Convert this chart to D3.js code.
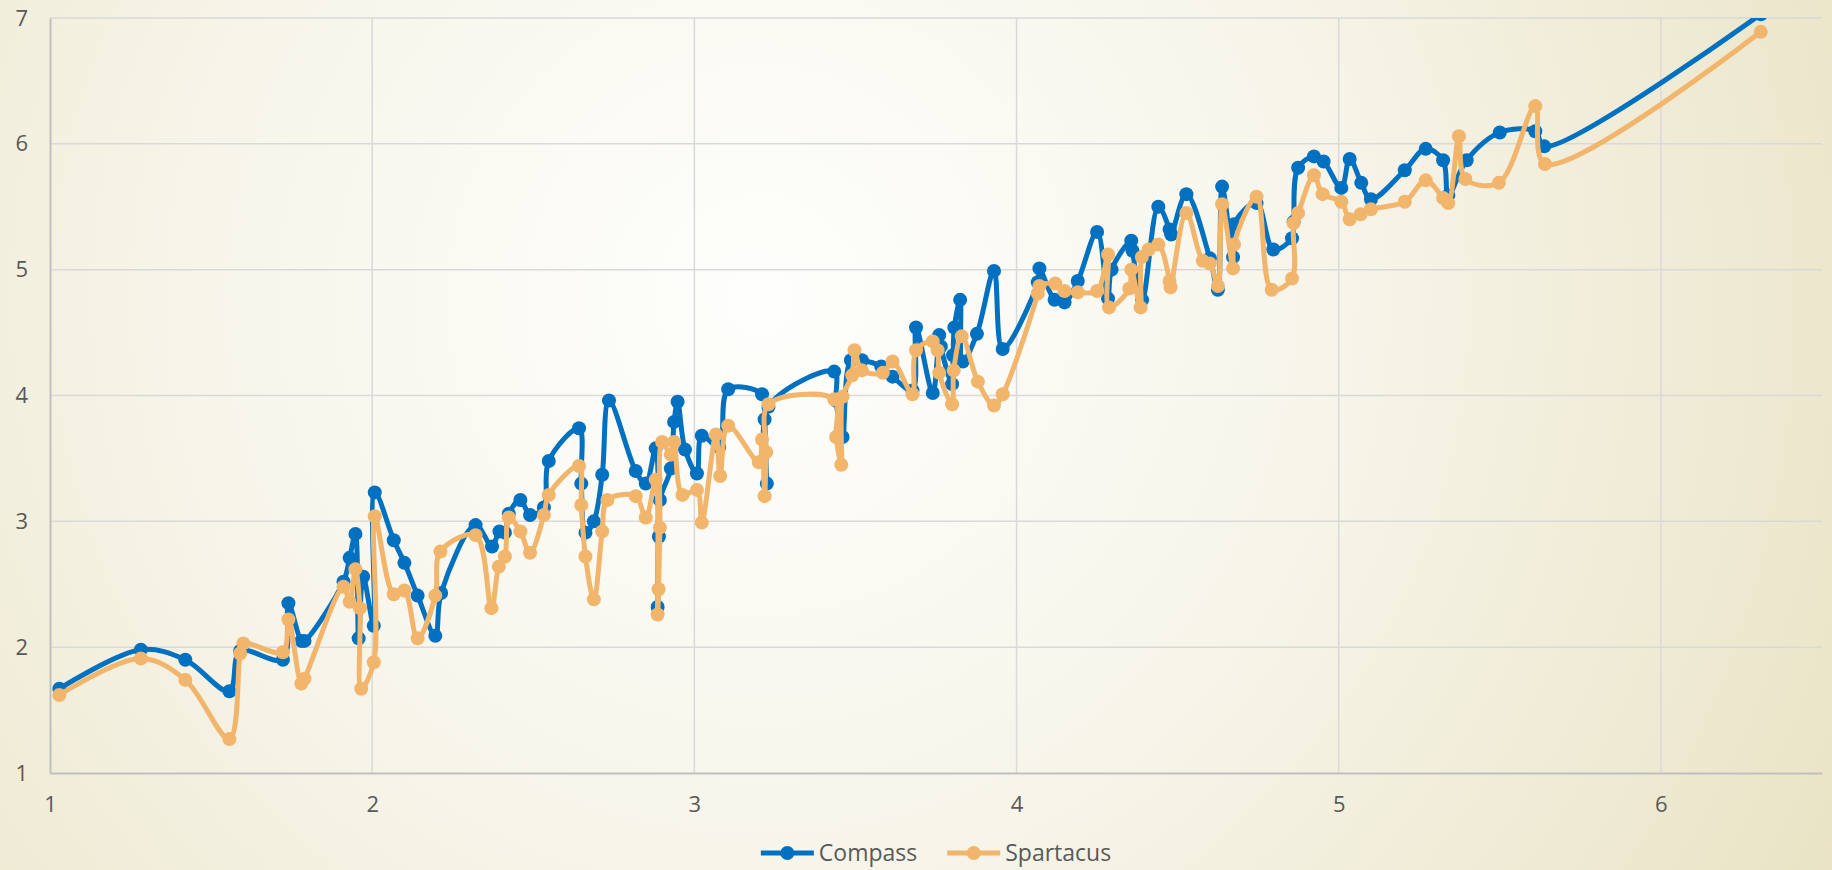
<!DOCTYPE html>
<html>
<head>
<meta charset="utf-8">
<script src="https://cdn.jsdelivr.net/npm/d3@7"></script>
<style>
  html, body { margin: 0; padding: 0; }
  body { width: 1832px; height: 870px; overflow: hidden; }
  svg text { font-family: "Open Sans", "DejaVu Sans", sans-serif; fill: #595959; }
</style>
</head>
<body>
<svg id="chart" width="1832" height="870"></svg>
<script>
// series values
var compassX = [1.029, 1.282, 1.42, 1.557, 1.59, 1.723, 1.74, 1.78, 1.79, 1.911, 1.93, 1.948, 1.958, 1.972, 2.005, 2.008,
  2.067, 2.10, 2.141, 2.196, 2.214, 2.321, 2.372, 2.395, 2.412, 2.424, 2.46, 2.49, 2.533, 2.548, 2.642, 2.649, 2.662,
  2.688, 2.714, 2.735, 2.818, 2.849, 2.88, 2.886, 2.89, 2.893, 2.927, 2.937, 2.948, 2.971, 3.008, 3.023, 3.077, 3.105,
  3.21, 3.218, 3.225, 3.23, 3.434, 3.44, 3.46, 3.486, 3.52, 3.58, 3.615, 3.677, 3.688, 3.74, 3.76, 3.765, 3.80, 3.803,
  3.807, 3.825, 3.833, 3.877, 3.93, 3.957, 4.066, 4.071, 4.118, 4.149, 4.19, 4.25, 4.284, 4.295, 4.356, 4.36, 4.39,
  4.44, 4.475, 4.48, 4.527, 4.60, 4.625, 4.638, 4.672, 4.675, 4.745, 4.797, 4.855, 4.86, 4.874, 4.923, 4.953, 5.008,
  5.034, 5.07, 5.10, 5.205, 5.27, 5.324, 5.34, 5.397, 5.50, 5.61, 5.638, 6.31];
var compassY = [1.67, 1.98, 1.90, 1.65, 1.97, 1.90, 2.35, 2.05, 2.05, 2.52, 2.71, 2.90, 2.07, 2.56, 2.17, 3.23,
  2.85, 2.67, 2.41, 2.09, 2.43, 2.97, 2.80, 2.92, 2.91, 3.06, 3.17, 3.05, 3.11, 3.48, 3.74, 3.30, 2.91,
  3.00, 3.37, 3.96, 3.40, 3.30, 3.58, 2.32, 2.88, 3.17, 3.42, 3.79, 3.95, 3.57, 3.38, 3.68, 3.59, 4.05,
  4.01, 3.81, 3.30, 3.91, 4.19, 3.96, 3.67, 4.28, 4.28, 4.23, 4.15, 4.04, 4.54, 4.02, 4.48, 4.39, 4.09, 4.32,
  4.54, 4.76, 4.27, 4.49, 4.99, 4.37, 4.90, 5.01, 4.76, 4.74, 4.91, 5.30, 4.77, 5.00, 5.23, 5.15, 4.76,
  5.50, 5.32, 5.28, 5.60, 5.09, 4.84, 5.66, 5.10, 5.36, 5.53, 5.16, 5.25, 5.38, 5.81, 5.90, 5.86, 5.65,
  5.88, 5.69, 5.56, 5.79, 5.96, 5.87, 5.59, 5.87, 6.09, 6.10, 5.98, 7.03];

var spartacusX = [1.029, 1.282, 1.42, 1.557, 1.59, 1.60, 1.723, 1.74, 1.78, 1.79, 1.911, 1.93, 1.948, 1.962, 1.966, 2.005,
  2.008, 2.067, 2.10, 2.141, 2.196, 2.212, 2.321, 2.37, 2.393, 2.412, 2.424, 2.46, 2.49, 2.533, 2.548, 2.642, 2.649,
  2.662, 2.688, 2.714, 2.73, 2.818, 2.849, 2.88, 2.886, 2.889, 2.893, 2.90, 2.927, 2.937, 2.963, 3.008, 3.023, 3.067,
  3.08, 3.105, 3.20, 3.21, 3.218, 3.223, 3.23, 3.434, 3.44, 3.456, 3.46, 3.49, 3.497, 3.52, 3.585, 3.615, 3.677, 3.688,
  3.74, 3.755, 3.76, 3.80, 3.805, 3.83, 3.88, 3.93, 3.957, 4.066, 4.071, 4.12, 4.149, 4.19, 4.25, 4.284, 4.287, 4.35,
  4.356, 4.385, 4.389, 4.41, 4.44, 4.475, 4.478, 4.527, 4.578, 4.60, 4.625, 4.638, 4.672, 4.675, 4.745, 4.792, 4.855,
  4.86, 4.874, 4.923, 4.95, 5.008, 5.034, 5.068, 5.10, 5.205, 5.27, 5.324, 5.34, 5.373, 5.393, 5.497, 5.61, 5.64, 6.31];
var spartacusY = [1.62, 1.91, 1.74, 1.27, 1.95, 2.03, 1.96, 2.22, 1.71, 1.75, 2.48, 2.36, 2.62, 2.31, 1.67, 1.88,
  3.04, 2.42, 2.45, 2.07, 2.41, 2.76, 2.89, 2.31, 2.64, 2.72, 3.03, 2.92, 2.75, 3.05, 3.21, 3.44, 3.13,
  2.72, 2.38, 2.92, 3.17, 3.20, 3.03, 3.33, 2.26, 2.46, 2.95, 3.63, 3.53, 3.63, 3.21, 3.25, 2.99, 3.69,
  3.36, 3.76, 3.47, 3.65, 3.20, 3.55, 3.93, 3.97, 3.67, 3.45, 3.99, 4.16, 4.36, 4.20, 4.18, 4.27, 4.01, 4.36,
  4.43, 4.36, 4.18, 3.93, 4.20, 4.47, 4.11, 3.92, 4.01, 4.81, 4.87, 4.89, 4.83, 4.82, 4.83, 5.12, 4.70, 4.85,
  5.00, 4.70, 5.10, 5.16, 5.20, 4.91, 4.86, 5.45, 5.07, 5.05, 4.87, 5.52, 5.01, 5.20, 5.58, 4.84, 4.93,
  5.37, 5.45, 5.75, 5.60, 5.54, 5.40, 5.44, 5.48, 5.54, 5.71, 5.57, 5.53, 6.06, 5.72, 5.69, 6.30, 5.84, 6.89];

var xTicks = [1, 2, 3, 4, 5, 6];
var yTicks = [1, 2, 3, 4, 5, 6, 7];
var seriesNames = ["Compass", "Spartacus"];
var seriesColors = ["#0070c0", "#f2b56c"];

var svg = d3.select("#chart"),
    width = +svg.attr("width"),
    height = +svg.attr("height");

var plot = { left: 50, top: 18, right: 1822, bottom: 773 };

var x = d3.scaleLinear().domain([1, 6.5]).range([plot.left, plot.right]);
var y = d3.scaleLinear().domain([1, 7]).range([plot.bottom, plot.top]);

// cream background with a light centre
var defs = svg.append("defs");
var grad = defs.append("radialGradient")
    .attr("id", "bg")
    .attr("gradientUnits", "userSpaceOnUse")
    .attr("cx", 760).attr("cy", 300).attr("r", 1250);
grad.append("stop").attr("offset", "0%").attr("stop-color", "#fefefc");
grad.append("stop").attr("offset", "45%").attr("stop-color", "#f7f5ea");
grad.append("stop").attr("offset", "100%").attr("stop-color", "#e9e2c3");

defs.append("clipPath").attr("id", "plotClip")
  .append("rect")
    .attr("x", plot.left).attr("y", plot.top)
    .attr("width", plot.right - plot.left).attr("height", plot.bottom - plot.top);

svg.append("rect").attr("width", width).attr("height", height).attr("fill", "url(#bg)");

// gridlines
svg.append("g").selectAll("line")
  .data(yTicks.slice(1))
  .enter().append("line")
    .attr("x1", plot.left).attr("x2", plot.right)
    .attr("y1", function (d) { return y(d); }).attr("y2", function (d) { return y(d); })
    .attr("stroke", "#d9d9d9").attr("stroke-width", 1.5);

svg.append("g").selectAll("line")
  .data(xTicks.slice(1))
  .enter().append("line")
    .attr("y1", plot.top).attr("y2", plot.bottom)
    .attr("x1", function (d) { return x(d); }).attr("x2", function (d) { return x(d); })
    .attr("stroke", "#d9d9d9").attr("stroke-width", 1.5);

// axes
var yAxis = svg.append("g")
    .attr("transform", "translate(" + plot.left + ",0)")
    .call(d3.axisLeft(y).tickValues(yTicks).tickSize(0).tickPadding(22).tickFormat(d3.format("d")));
var xAxis = svg.append("g")
    .attr("transform", "translate(0," + plot.bottom + ")")
    .call(d3.axisBottom(x).tickValues(xTicks).tickSize(0).tickPadding(23).tickFormat(d3.format("d")));

[xAxis, yAxis].forEach(function (a) {
  a.select(".domain").attr("stroke", "#bfbfbf").attr("stroke-width", 2);
  a.selectAll("text").style("font-size", "22px").attr("fill", "#595959");
});

// series
var line = d3.line()
    .x(function (d) { return x(d[0]); })
    .y(function (d) { return y(d[1]); })
    .curve(d3.curveCatmullRom.alpha(0.5));

var series = [
  d3.zip(compassX, compassY),
  d3.zip(spartacusX, spartacusY)
];

var chartArea = svg.append("g").attr("clip-path", "url(#plotClip)");

series.forEach(function (pts, i) {
  var g = chartArea.append("g");
  g.append("path")
    .datum(pts)
    .attr("d", line)
    .attr("fill", "none")
    .attr("stroke", seriesColors[i])
    .attr("stroke-width", 5)
    .attr("stroke-linejoin", "round")
    .attr("stroke-linecap", "round");
  g.selectAll("circle")
    .data(pts)
    .enter().append("circle")
    .attr("cx", function (d) { return x(d[0]); })
    .attr("cy", function (d) { return y(d[1]); })
    .attr("r", 7)
    .attr("fill", seriesColors[i]);
});

// legend, centred under the plot area
var legend = svg.append("g");
var lx = 0;
seriesNames.forEach(function (name, i) {
  var item = legend.append("g").attr("transform", "translate(" + lx + ",0)");
  item.append("line")
    .attr("x1", 0).attr("x2", 53).attr("y1", 0).attr("y2", 0)
    .attr("stroke", seriesColors[i]).attr("stroke-width", 5);
  item.append("circle").attr("cx", 26.5).attr("cy", 0).attr("r", 7).attr("fill", seriesColors[i]);
  var t = item.append("text")
    .attr("x", 58).attr("y", 0).attr("dy", "0.35em")
    .style("font-size", "23px")
    .text(name);
  lx += 58 + t.node().getComputedTextLength() + 30;
});
var legendWidth = lx - 30;
legend.attr("transform", "translate(" + ((plot.left + plot.right) / 2 - legendWidth / 2) + ",853)");
</script>
</body>
</html>
